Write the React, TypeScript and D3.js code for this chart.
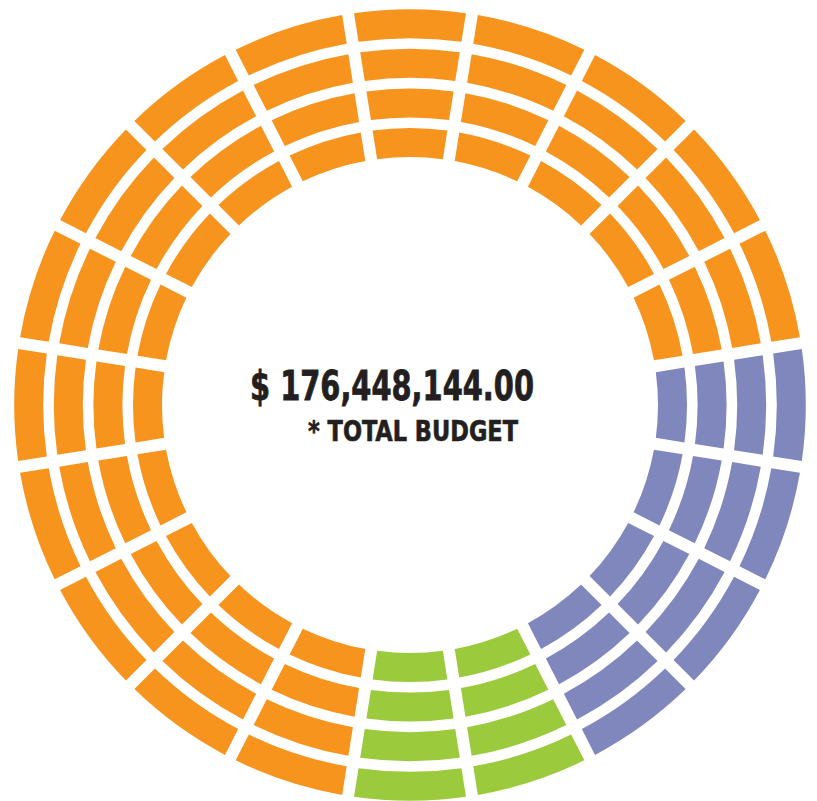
import React from "react";
import * as d3 from "d3";

// 20 equal slices, clockwise from the top; each slice is drawn in all 4 rings
const sliceCategories: string[] = [
  "A", "A", "A", "A", "A",
  "B", "B", "B", "B",
  "C", "C",
  "A", "A", "A", "A", "A", "A", "A", "A", "A",
];
const sliceValues: number[] = sliceCategories.map(() => 1);
const rings: number[] = [0, 1, 2, 3];
const categoryNames: string[] = ["A", "B", "C"];
const categoryColors: string[] = ["#F7941E", "#7F87BD", "#9BCA3C"];
const totalLabel = "$ 176,448,144.00";
const subLabel = "* TOTAL BUDGET";

export default function App() {
  const W = 817;
  const H = 801;
  const cx = 410;
  const cy = 405;
  const innerR = 248;
  const ringStep = 39.6;
  const ringW = 29;

  const color = d3.scaleOrdinal<string, string>().domain(categoryNames).range(categoryColors);
  const half = Math.PI / sliceValues.length;
  const pie = d3
    .pie<number>()
    .sort(null)
    .value((d) => d)
    .startAngle(-half)
    .endAngle(2 * Math.PI - half);
  const arcs = pie(sliceValues);

  const arcGen = d3.arc<any>().padRadius(100).padAngle(0.12).cornerRadius(0);

  const font =
    "'Liberation Sans Narrow', 'DejaVu Sans Condensed', 'Roboto Condensed', Arial, sans-serif";

  return (
    <svg
      width={W}
      height={H}
      style={{ position: "absolute", left: 0, top: 0, background: "#fff" }}
    >
      <g transform={`translate(${cx},${cy})`}>
        {rings.map((ri) =>
          arcs.map((a, i) => (
            <path
              key={`${ri}-${i}`}
              d={
                arcGen({
                  ...a,
                  innerRadius: innerR + ri * ringStep,
                  outerRadius: innerR + ri * ringStep + ringW,
                }) as string
              }
              fill={color(sliceCategories[i])}
            />
          ))
        )}
      </g>
      <text
        x={250}
        y={400}
        fontFamily={font}
        fontWeight="bold"
        fontSize={41}
        fill="#231F20"
        stroke="#231F20"
        strokeWidth={0.8}
        textLength={284}
        lengthAdjust="spacingAndGlyphs"
      >
        {totalLabel}
      </text>
      <text
        x={308}
        y={441}
        fontFamily={font}
        fontWeight="bold"
        fontSize={29}
        fill="#231F20"
        stroke="#231F20"
        strokeWidth={0.6}
        textLength={210}
        lengthAdjust="spacingAndGlyphs"
      >
        {subLabel}
      </text>
    </svg>
  );
}
